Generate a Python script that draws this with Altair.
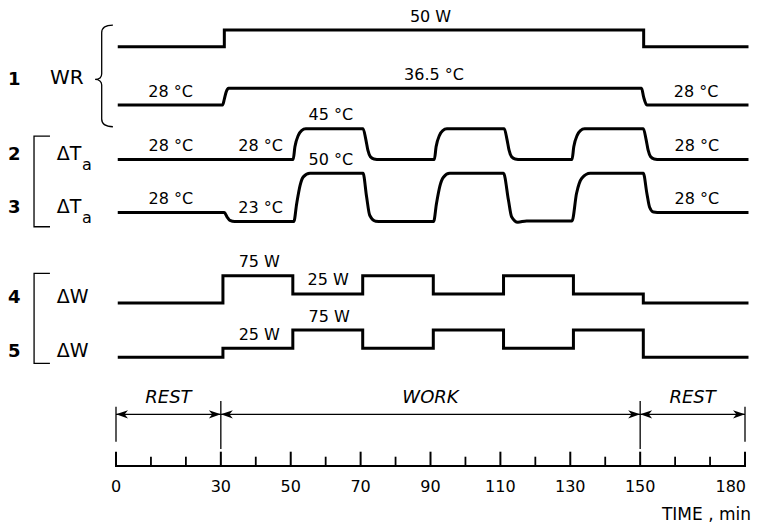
import altair as alt
import pandas as pd

FONT = "DejaVu Sans"

# ---------------- data ----------------
phase_names = ["REST", "WORK", "REST"]
phase_start = [0, 30, 150]
phase_end = [30, 150, 180]

major_ticks = [0, 30, 50, 70, 90, 110, 130, 150, 180]
minor_ticks = [10, 20, 40, 60, 80, 100, 120, 140, 160, 170]
axis_title = "TIME , min"

# protocol 1 (WR): work rate, W
wr_power_t = [0.5, 31.0, 151.0, 181.0]
wr_power_v = [0, 50, 0, 0]
# protocol 1 (WR): ambient temperature, °C
wr_temp_t = [0.5, 30.5, 31.0, 31.5, 32.2, 150.4, 151.0, 151.9, 181.0]
wr_temp_v = [28, 28, 31, 34.5, 36.5, 36.5, 32, 28, 28]

# protocol 2: ΔTa, °C
ta2_t = [0.5, 50.7, 51.2, 52.2, 53.1, 54.3, 70.7, 71.5, 72.1, 72.8, 73.8, 75.5,
         91.1, 91.6, 92.6, 93.5, 94.7, 111.1, 111.9, 112.5, 113.2, 114.2, 115.9,
         130.5, 131.0, 132.0, 132.9, 134.1, 150.9, 151.7, 152.3, 153.0, 154.0, 155.7,
         181.0]
ta2_v = [28, 28, 35, 41.5, 44, 45, 45, 39, 33, 29.5, 28.3, 28,
         28, 35, 41.5, 44, 45, 45, 39, 33, 29.5, 28.3, 28,
         28, 35, 41.5, 44, 45, 45, 39, 33, 29.5, 28.3, 28,
         28]

# protocol 3: ΔTa, °C
ta3_t = [0.5, 31.0, 31.8, 32.6, 34.0, 50.9, 51.7, 52.7, 53.6, 55.5, 70.7, 71.7,
         72.6, 74.3, 76.0, 90.9, 91.7, 92.7, 93.7, 95.5, 110.9, 112.3, 113.2,
         115.0, 117.5, 130.5, 131.8, 133.3, 135.7, 150.9, 151.9, 152.7, 153.8,
         156.0, 181.0]
ta3_v = [28, 28, 25.5, 23.6, 23, 23, 33, 43.4, 48, 50, 50, 37,
         26.5, 23.2, 23, 23, 33, 43, 47.8, 50, 50, 35, 25.7,
         22.6, 23.3, 23.3, 38.8, 47.2, 50, 50, 39, 31, 28.3,
         28, 28]

# protocols 4 and 5: ΔW, W (step after each time)
w_t = [0.5, 30.6, 50.6, 70.6, 90.8, 110.9, 130.9, 150.9, 181.0]
w4_v = [0, 75, 25, 75, 25, 75, 25, 0, 0]
w5_v = [0, 25, 75, 25, 75, 25, 75, 0, 0]

# value labels: (time, level, text)
wr_power_labels = ([90], [50], ["50 W"])
wr_temp_labels = ([15.6, 91, 166], [28, 36.5, 28], ["28 °C", "36.5 °C", "28 °C"])
ta2_labels = ([15.7, 41.4, 61.5, 166.2], [28, 28, 45, 28], ["28 °C", "28 °C", "45 °C", "28 °C"])
ta3_labels = ([15.7, 41.4, 61.5, 166.2], [28, 23, 50, 28], ["28 °C", "23 °C", "50 °C", "28 °C"])
w4_labels = ([41, 60.7], [75, 25], ["75 W", "25 W"])
w5_labels = ([41, 61], [25, 75], ["25 W", "75 W"])

# ---------------- layout ----------------
AXIS_Y = 458
XS = alt.Scale(domain=[0, 180], range=[108, 737], zero=False, nice=False)


def xenc(field="t"):
    return alt.X(f"{field}:Q", scale=XS, axis=None)


traces = [
    dict(t=wr_power_t, v=wr_power_v, interp="step-after", dom=[0, 50], rng=[38.7, 22.0],
         labels=wr_power_labels),
    dict(t=wr_temp_t, v=wr_temp_v, interp="monotone", dom=[28, 36.5], rng=[97.0, 80.3],
         labels=wr_temp_labels),
    dict(t=ta2_t, v=ta2_v, interp="monotone", dom=[28, 45], rng=[151.5, 120.7],
         labels=ta2_labels, num="2", name="ΔT", sub="a", rest=28),
    dict(t=ta3_t, v=ta3_v, interp="monotone", dom=[23, 50], rng=[213.5, 165.3],
         labels=ta3_labels, num="3", name="ΔT", sub="a", rest=28),
    dict(t=w_t, v=w4_v, interp="step-after", dom=[0, 75], rng=[295.0, 267.7],
         labels=w4_labels, num="4", name="ΔW", rest=0),
    dict(t=w_t, v=w5_v, interp="step-after", dom=[0, 75], rng=[349.3, 322.0],
         labels=w5_labels, num="5", name="ΔW", rest=0),
]

layers = []
for tr in traces:
    ys = alt.Scale(domain=tr["dom"], range=tr["rng"], zero=False, nice=False)
    df = pd.DataFrame({"t": tr["t"], "v": tr["v"], "i": list(range(len(tr["t"])))})
    layers.append(
        alt.Chart(df).mark_line(color="black", strokeWidth=3, interpolate=tr["interp"])
        .encode(x=xenc(), y=alt.Y("v:Q", scale=ys, axis=None), order="i:Q")
    )
    lt, lv, ls = tr["labels"]
    ldf = pd.DataFrame({"t": lt, "v": lv, "s": ls})
    layers.append(
        alt.Chart(ldf).mark_text(font=FONT, fontSize=16, color="black", dy=-13.5,
                                 baseline="middle", align="center")
        .encode(x=xenc(), y=alt.Y("v:Q", scale=ys, axis=None), text="s:N")
    )
    if "num" in tr:
        ndf = pd.DataFrame({"v": [tr["rest"]], "s": [tr["num"]]})
        layers.append(
            alt.Chart(ndf).mark_text(font=FONT, fontSize=18, fontWeight="bold", color="black",
                                     align="left", baseline="alphabetic")
            .encode(x=alt.value(0), y=alt.Y("v:Q", scale=ys, axis=None), text="s:N")
        )
        mdf = pd.DataFrame({"v": [tr["rest"]], "s": [tr["name"]]})
        layers.append(
            alt.Chart(mdf).mark_text(font=FONT, fontSize=19, color="black",
                                     align="left", baseline="alphabetic")
            .encode(x=alt.value(48.7), y=alt.Y("v:Q", scale=ys, axis=None), text="s:N")
        )
        if "sub" in tr:
            sdf = pd.DataFrame({"v": [tr["rest"]], "s": [tr["sub"]]})
            layers.append(
                alt.Chart(sdf).mark_text(font=FONT, fontSize=16, color="black", dy=10,
                                         align="left", baseline="alphabetic")
                .encode(x=alt.value(74), y=alt.Y("v:Q", scale=ys, axis=None), text="s:N")
            )

# protocol 1 label and brace
one = pd.DataFrame({"s": ["1"]})
layers.append(
    alt.Chart(one).mark_text(font=FONT, fontSize=18, fontWeight="bold", color="black",
                             align="left", baseline="alphabetic")
    .encode(x=alt.value(0), y=alt.value(77), text="s:N")
)
wr = pd.DataFrame({"s": ["WR"]})
layers.append(
    alt.Chart(wr).mark_text(font=FONT, fontSize=20, color="black",
                            align="left", baseline="alphabetic")
    .encode(x=alt.value(42), y=alt.value(76), text="s:N")
)

BRACE = ("M 0.22 -1 C 0.06 -1 0 -0.95 0 -0.85 L 0 -0.04 C 0 0.03 -0.05 0.07 -0.13 0.07 "
         "C -0.05 0.07 0 0.11 0 0.18 L 0 0.85 C 0 0.95 0.06 1 0.22 1")
BRACKET = "M 0.176 -1 L -0.176 -1 L -0.176 1 L 0.176 1"
dummy = pd.DataFrame({"k": [0]})
layers.append(
    alt.Chart(dummy).mark_point(shape=BRACE, size=10340, filled=False, stroke="black",
                                strokeWidth=1.3, opacity=1)
    .encode(x=alt.value(93.7), y=alt.value(67.9))
)
for cy, sz in [(173.4, 8226), (310.3, 8100)]:
    layers.append(
        alt.Chart(dummy).mark_point(shape=BRACKET, size=sz, filled=False, stroke="black",
                                    strokeWidth=1.3, opacity=1)
        .encode(x=alt.value(34), y=alt.value(cy))
    )

# REST / WORK arrows
ph = pd.DataFrame({"name": phase_names, "start": phase_start, "end": phase_end})
ARROW_Y = 406.3
layers.append(
    alt.Chart(ph).mark_rule(color="black", strokeWidth=1.3)
    .encode(x=xenc("start"), x2="end:Q", y=alt.value(ARROW_Y))
)
LEFT_HEAD = "M 0 0 L 1 -0.34 L 0.72 0 L 1 0.34 Z"
RIGHT_HEAD = "M 0 0 L -1 -0.34 L -0.72 0 L -1 0.34 Z"
layers.append(
    alt.Chart(ph).mark_point(shape=LEFT_HEAD, size=576, filled=True, color="black", opacity=1)
    .encode(x=xenc("start"), y=alt.value(ARROW_Y))
)
layers.append(
    alt.Chart(ph).mark_point(shape=RIGHT_HEAD, size=576, filled=True, color="black", opacity=1)
    .encode(x=xenc("end"), y=alt.value(ARROW_Y))
)
outer = pd.DataFrame({"b": [phase_start[0], phase_end[-1]]})
inner = pd.DataFrame({"b": phase_start[1:]})
layers.append(
    alt.Chart(outer).mark_rule(color="black", strokeWidth=1.3)
    .encode(x=xenc("b"), y=alt.value(398.7), y2=alt.value(433.7))
)
layers.append(
    alt.Chart(inner).mark_rule(color="black", strokeWidth=1.3)
    .encode(x=xenc("b"), y=alt.value(393), y2=alt.value(441))
)
layers.append(
    alt.Chart(ph).transform_calculate(mid="(datum.start + datum.end) / 2")
    .mark_text(font=FONT, fontSize=18, fontStyle="italic", color="black",
               align="center", baseline="middle")
    .encode(x=xenc("mid"), y=alt.value(390), text="name:N")
)

# time axis: baseline, upward ticks, labels, title
base = pd.DataFrame({"a": [major_ticks[0]], "b": [major_ticks[-1]]})
layers.append(
    alt.Chart(base).mark_rule(color="black", strokeWidth=2)
    .encode(x=xenc("a"), x2="b:Q", y=alt.value(AXIS_Y))
)
maj = pd.DataFrame({"t": major_ticks})
mino = pd.DataFrame({"t": minor_ticks})
layers.append(
    alt.Chart(maj).mark_rule(color="black", strokeWidth=2)
    .encode(x=xenc(), y=alt.value(443.7), y2=alt.value(AXIS_Y + 1))
)
layers.append(
    alt.Chart(mino).mark_rule(color="black", strokeWidth=1.8)
    .encode(x=xenc(), y=alt.value(448.7), y2=alt.value(AXIS_Y))
)
lab_mid = pd.DataFrame({"t": major_ticks[:-1], "s": [str(v) for v in major_ticks[:-1]]})
lab_last = pd.DataFrame({"t": major_ticks[-1:], "s": [str(v) for v in major_ticks[-1:]]})
layers.append(
    alt.Chart(lab_mid).mark_text(font=FONT, fontSize=16, color="black",
                                 align="center", baseline="middle")
    .encode(x=xenc(), y=alt.value(AXIS_Y + 21), text="s:N")
)
layers.append(
    alt.Chart(lab_last).mark_text(font=FONT, fontSize=16, color="black",
                                  align="right", baseline="middle", dx=1)
    .encode(x=xenc(), y=alt.value(AXIS_Y + 21), text="s:N")
)
ttl = pd.DataFrame({"s": [axis_title]})
layers.append(
    alt.Chart(ttl).mark_text(font=FONT, fontSize=17, color="black",
                             align="right", baseline="middle")
    .encode(x=alt.value(743), y=alt.value(AXIS_Y + 49), text="s:N")
)

chart = (
    alt.layer(*layers)
    .resolve_scale(y="independent")
    .properties(
        width=744, height=AXIS_Y,
        autosize=alt.AutoSizeParams(type="none"),
        padding={"left": 0, "top": 0, "right": 0, "bottom": 63},
        background="white",
    )
    .configure_view(stroke=None)
)

chart.save("out.html", embed_options={"renderer": "svg", "actions": False})
